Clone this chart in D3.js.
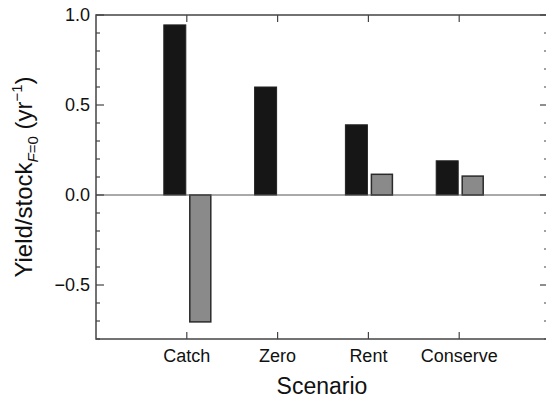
<!DOCTYPE html>
<html>
<head>
<meta charset="utf-8">
<script src="https://cdn.jsdelivr.net/npm/d3@7"></script>
<style>
  body { margin: 0; background: #fff; }
  text { font-family: "Liberation Sans", Arial, sans-serif; fill: #111; }
</style>
</head>
<body>
<script>
const scenarios = ['Catch', 'Zero', 'Rent', 'Conserve'];
const darkValues = [0.945, 0.60, 0.39, 0.19];
const greyValues = [-0.705, 0.0, 0.115, 0.105];
const yMajorTicks = [-0.5, 0.0, 0.5, 1.0];

const width = 546, height = 399;
const svg = d3.select('body').append('svg')
    .attr('width', width)
    .attr('height', height);

// x runs 0..5 so the categories sit at 1..4, right frame falls just off the page
const x = d3.scaleLinear().domain([0, 5]).range([96, 550]);
const y = d3.scaleLinear().domain([-0.8, 1.0]).range([339, 15]);

const minorTicks = d3.range(-8, 11).map(d => d / 10);
const frameColor = '#444';

// bars
svg.append('g')
    .selectAll('rect')
    .data(scenarios)
    .enter().append('rect')
    .attr('x', (d, i) => x(i + 1) - 23)
    .attr('width', 22)
    .attr('y', (d, i) => y(Math.max(0, darkValues[i])))
    .attr('height', (d, i) => Math.abs(y(darkValues[i]) - y(0)))
    .attr('fill', '#161616')
    .attr('stroke', '#222')
    .attr('stroke-width', 1);

svg.append('g')
    .selectAll('rect')
    .data(scenarios.filter((d, i) => greyValues[i] !== 0))
    .enter().append('rect')
    .attr('x', d => x(scenarios.indexOf(d) + 1) + 3)
    .attr('width', 21)
    .attr('y', d => y(Math.max(0, greyValues[scenarios.indexOf(d)])))
    .attr('height', d => Math.abs(y(greyValues[scenarios.indexOf(d)]) - y(0)))
    .attr('fill', '#8a8a8a')
    .attr('stroke', '#2a2a2a')
    .attr('stroke-width', 1.5);

// zero line
svg.append('line')
    .attr('x1', x(0)).attr('x2', x(5))
    .attr('y1', y(0)).attr('y2', y(0))
    .attr('stroke', '#555')
    .attr('stroke-width', 1.2);

// frame
svg.append('rect')
    .attr('x', x(0)).attr('y', y(1))
    .attr('width', x(5) - x(0)).attr('height', y(-0.8) - y(1))
    .attr('fill', 'none')
    .attr('stroke', frameColor)
    .attr('stroke-width', 1.5);

// left axis: inward ticks
const leftAxis = svg.append('g').attr('transform', `translate(${x(0)},0)`);
leftAxis.selectAll('line.minor')
    .data(minorTicks.filter(t => Math.abs((t * 10) % 5) > 0.01))
    .enter().append('line')
    .attr('x1', 0).attr('x2', 4)
    .attr('y1', d => y(d)).attr('y2', d => y(d))
    .attr('stroke', frameColor).attr('stroke-width', 1.2);
leftAxis.selectAll('line.major')
    .data(yMajorTicks)
    .enter().append('line')
    .attr('x1', 0).attr('x2', 8)
    .attr('y1', d => y(d)).attr('y2', d => y(d))
    .attr('stroke', frameColor).attr('stroke-width', 1.2);
leftAxis.selectAll('text')
    .data(yMajorTicks)
    .enter().append('text')
    .attr('x', -6)
    .attr('y', d => y(d))
    .attr('dy', '0.35em')
    .attr('text-anchor', 'end')
    .style('font-size', '18px')
    .text(d => d3.format('.1f')(d).replace('-', '\u2212'));

// right axis: inward ticks
const rightAxis = svg.append('g').attr('transform', `translate(${x(5)},0)`);
rightAxis.selectAll('line.minor')
    .data(minorTicks.filter(t => Math.abs((t * 10) % 5) > 0.01))
    .enter().append('line')
    .attr('x1', 0).attr('x2', -6)
    .attr('y1', d => y(d)).attr('y2', d => y(d))
    .attr('stroke', frameColor).attr('stroke-width', 1.2);
rightAxis.selectAll('line.major')
    .data(yMajorTicks)
    .enter().append('line')
    .attr('x1', 0).attr('x2', -10)
    .attr('y1', d => y(d)).attr('y2', d => y(d))
    .attr('stroke', frameColor).attr('stroke-width', 1.2);

// bottom / top ticks and category labels
scenarios.forEach((s, i) => {
    svg.append('line')
        .attr('x1', x(i + 1)).attr('x2', x(i + 1))
        .attr('y1', y(-0.8)).attr('y2', y(-0.8) - 7)
        .attr('stroke', frameColor).attr('stroke-width', 1.2);
    svg.append('line')
        .attr('x1', x(i + 1)).attr('x2', x(i + 1))
        .attr('y1', y(1)).attr('y2', y(1) + 7)
        .attr('stroke', frameColor).attr('stroke-width', 1.2);
    svg.append('text')
        .attr('x', x(i + 1))
        .attr('y', 362)
        .attr('text-anchor', 'middle')
        .style('font-size', '18px')
        .text(s);
});

// axis titles
svg.append('text')
    .attr('x', 322)
    .attr('y', 394)
    .attr('text-anchor', 'middle')
    .style('font-size', '23px')
    .text('Scenario');

const yTitle = svg.append('text')
    .attr('transform', 'translate(32,177) rotate(-90)')
    .attr('text-anchor', 'middle')
    .style('font-size', '24px');
yTitle.append('tspan').text('Yield/stock');
yTitle.append('tspan').attr('dy', 6).style('font-size', '15px').style('font-style', 'italic').text('F');
yTitle.append('tspan').style('font-size', '15px').text('=0');
yTitle.append('tspan').attr('dy', -6).text(' (yr');
yTitle.append('tspan').attr('dy', -10).style('font-size', '15px').text('\u22121');
yTitle.append('tspan').attr('dy', 10).text(')');
</script>
</body>
</html>
